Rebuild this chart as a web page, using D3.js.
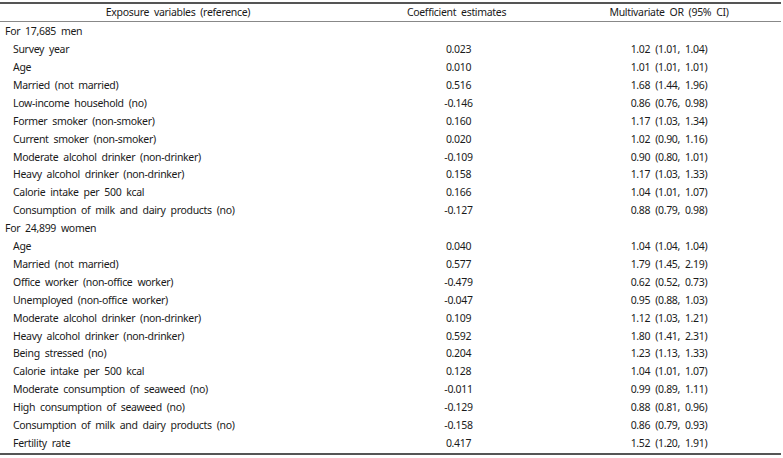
<!DOCTYPE html>
<html>
<head>
<meta charset="utf-8">
<script src="https://cdn.jsdelivr.net/npm/d3@7"></script>
<style>
  html, body { margin: 0; padding: 0; background: #fff; }
  svg { display: block; }
  text { font-family: "Noto Sans", "Open Sans", sans-serif; font-size: 10.5px; fill: #1a1a1a; word-spacing: 2.5px; letter-spacing: -0.32px; }
</style>
</head>
<body>
<div id="chart"></div>
<script>
const headers = ["Exposure variables (reference)", "Coefficient estimates", "Multivariate OR (95% CI)"];

const groupLabels = ["For 17,685 men", "For 24,899 women"];

const menVariables = [
  "Survey year", "Age", "Married (not married)", "Low-income household (no)",
  "Former smoker (non-smoker)", "Current smoker (non-smoker)",
  "Moderate alcohol drinker (non-drinker)", "Heavy alcohol drinker (non-drinker)",
  "Calorie intake per 500 kcal", "Consumption of milk and dairy products (no)"
];
const menCoef = ["0.023", "0.010", "0.516", "-0.146", "0.160", "0.020", "-0.109", "0.158", "0.166", "-0.127"];
const menOR = [
  "1.02 (1.01, 1.04)", "1.01 (1.01, 1.01)", "1.68 (1.44, 1.96)", "0.86 (0.76, 0.98)",
  "1.17 (1.03, 1.34)", "1.02 (0.90, 1.16)", "0.90 (0.80, 1.01)", "1.17 (1.03, 1.33)",
  "1.04 (1.01, 1.07)", "0.88 (0.79, 0.98)"
];

const womenVariables = [
  "Age", "Married (not married)", "Office worker (non-office worker)",
  "Unemployed (non-office worker)", "Moderate alcohol drinker (non-drinker)",
  "Heavy alcohol drinker (non-drinker)", "Being stressed (no)", "Calorie intake per 500 kcal",
  "Moderate consumption of seaweed (no)", "High consumption of seaweed (no)",
  "Consumption of milk and dairy products (no)", "Fertility rate"
];
const womenCoef = ["0.040", "0.577", "-0.479", "-0.047", "0.109", "0.592", "0.204", "0.128", "-0.011", "-0.129", "-0.158", "0.417"];
const womenOR = [
  "1.04 (1.04, 1.04)", "1.79 (1.45, 2.19)", "0.62 (0.52, 0.73)", "0.95 (0.88, 1.03)",
  "1.12 (1.03, 1.21)", "1.80 (1.41, 2.31)", "1.23 (1.13, 1.33)", "1.04 (1.01, 1.07)",
  "0.99 (0.89, 1.11)", "0.88 (0.81, 0.96)", "0.86 (0.79, 0.93)", "1.52 (1.20, 1.91)"
];

// Build rows table from the arrays
const rows = [];
rows.push({ type: "group", label: groupLabels[0] });
menVariables.forEach((v, i) => rows.push({ type: "item", label: v, coef: menCoef[i], or: menOR[i] }));
rows.push({ type: "group", label: groupLabels[1] });
womenVariables.forEach((v, i) => rows.push({ type: "item", label: v, coef: womenCoef[i], or: womenOR[i] }));

const W = 783, H = 458;
const svg = d3.select("#chart").append("svg").attr("width", W).attr("height", H);

const tableLeft = 0, tableRight = 781;
const colEdges = [0, 356, 557, 781];
const x = d3.scaleOrdinal().domain([0, 1, 2]).range([(colEdges[0] + colEdges[1]) / 2, (colEdges[1] + colEdges[2]) / 2, (colEdges[2] + colEdges[3]) / 2]);

const y = d3.scalePoint().domain(d3.range(rows.length)).range([31.6, 443.3]);

// Lines
svg.append("line").attr("x1", tableLeft).attr("x2", tableRight).attr("y1", 3).attr("y2", 3)
  .attr("stroke", "#555").attr("stroke-width", 2);
svg.append("line").attr("x1", tableLeft).attr("x2", tableRight).attr("y1", 21.5).attr("y2", 21.5)
  .attr("stroke", "#888").attr("stroke-width", 1);
svg.append("line").attr("x1", tableLeft).attr("x2", tableRight).attr("y1", 454).attr("y2", 454)
  .attr("stroke", "#555").attr("stroke-width", 2);

// Header
svg.selectAll("text.header").data(headers).join("text")
  .attr("class", "header")
  .attr("x", (d, i) => x(i))
  .attr("y", 12.5)
  .attr("dy", "0.35em")
  .attr("text-anchor", "middle")
  .text(d => d);

// Rows
const g = svg.selectAll("g.row").data(rows).join("g")
  .attr("class", "row")
  .attr("transform", (d, i) => `translate(0,${y(i)})`);

g.append("text")
  .attr("x", d => d.type === "group" ? 5 : 13)
  .attr("dy", "0.35em")
  .text(d => d.label);

g.filter(d => d.type === "item").append("text")
  .attr("x", x(1) + 2)
  .attr("dy", "0.35em")
  .attr("text-anchor", "middle")
  .text(d => d.coef);

g.filter(d => d.type === "item").append("text")
  .attr("x", x(2))
  .attr("dy", "0.35em")
  .attr("text-anchor", "middle")
  .text(d => d.or);
</script>
</body>
</html>
